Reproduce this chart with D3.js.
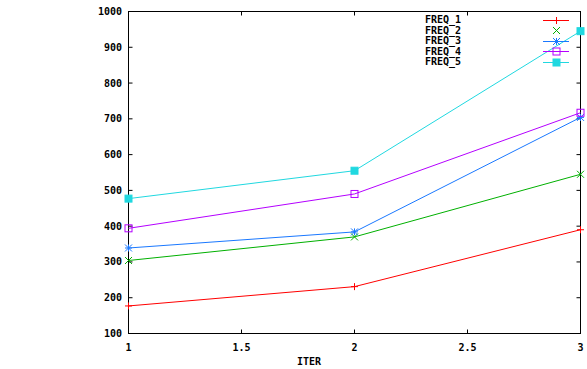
<!DOCTYPE html>
<html><head><meta charset="utf-8">
<script src="https://cdn.jsdelivr.net/npm/d3@7"></script>
<style>body{margin:0;background:#fff}svg{display:block}text{font-family:"DejaVu Sans Mono",monospace;font-weight:bold;font-size:10px;fill:#000}</style>
</head><body>
<script>
const iters = [1, 2, 3];
const seriesNames = ["FREQ_1", "FREQ_2", "FREQ_3", "FREQ_4", "FREQ_5"];
const freq1 = [177, 231, 390];
const freq2 = [304, 370, 545];
const freq3 = [339, 384, 704];
const freq4 = [394, 490, 717];
const freq5 = [477, 555, 945];
const xTicks = [1, 1.5, 2, 2.5, 3];
const yTicks = [100, 200, 300, 400, 500, 600, 700, 800, 900, 1000];
const colors = ["#ff0000", "#00b000", "#1a78ff", "#b400ff", "#20d8e0"];
const markers = ["plus", "cross", "star", "square", "filled"];

const W = 587, H = 369;
const svg = d3.select("body").append("svg").attr("width", W).attr("height", H);
const x = d3.scaleLinear().domain([1, 3]).range([128.5, 580.5]);
const y = d3.scaleLinear().domain([100, 1000]).range([333.5, 11.5]);

const data = [freq1, freq2, freq3, freq4, freq5];

// frame
svg.append("rect").attr("x", x(1)).attr("y", y(1000)).attr("width", x(3) - x(1)).attr("height", y(100) - y(1000))
  .attr("fill", "none").attr("stroke", "#000").attr("stroke-width", 1);

// ticks inward
const tk = 4;
const g = svg.append("g").attr("stroke", "#000").attr("stroke-width", 1);
yTicks.forEach(v => {
  g.append("line").attr("x1", x(1)).attr("x2", x(1) + tk).attr("y1", y(v)).attr("y2", y(v));
  g.append("line").attr("x1", x(3)).attr("x2", x(3) - tk).attr("y1", y(v)).attr("y2", y(v));
});
xTicks.forEach(v => {
  g.append("line").attr("x1", x(v)).attr("x2", x(v)).attr("y1", y(100)).attr("y2", y(100) - tk);
  g.append("line").attr("x1", x(v)).attr("x2", x(v)).attr("y1", y(1000)).attr("y2", y(1000) + tk);
});

// tick labels
svg.selectAll(".yl").data(yTicks).enter().append("text")
  .attr("x", 122).attr("y", d => y(d)).attr("dy", "0.35em").attr("text-anchor", "end").text(d => d);
svg.selectAll(".xl").data(xTicks).enter().append("text")
  .attr("x", d => x(d)).attr("y", 351).attr("text-anchor", "middle").text(d => d);
svg.append("text").attr("x", 309).attr("y", 365).attr("text-anchor", "middle").text("ITER");

function marker(sel, type, cx, cy, color) {
  const s = 3.5;
  const gg = sel.append("g").attr("stroke", color).attr("stroke-width", 1).attr("fill", "none");
  if (type === "plus" || type === "star") {
    gg.append("line").attr("x1", cx - s).attr("x2", cx + s).attr("y1", cy).attr("y2", cy);
    gg.append("line").attr("x1", cx).attr("x2", cx).attr("y1", cy - s).attr("y2", cy + s);
  }
  if (type === "cross" || type === "star") {
    gg.append("line").attr("x1", cx - s).attr("x2", cx + s).attr("y1", cy - s).attr("y2", cy + s);
    gg.append("line").attr("x1", cx - s).attr("x2", cx + s).attr("y1", cy + s).attr("y2", cy - s);
  }
  if (type === "square") {
    gg.append("rect").attr("x", cx - s).attr("y", cy - s).attr("width", 2 * s).attr("height", 2 * s);
  }
  if (type === "filled") {
    gg.append("rect").attr("x", cx - s).attr("y", cy - s).attr("width", 2 * s).attr("height", 2 * s).attr("fill", color);
  }
}

const line = d3.line().x((d, i) => x(iters[i])).y(d => y(d));
data.forEach((vals, k) => {
  svg.append("path").datum(vals).attr("d", line).attr("fill", "none").attr("stroke", colors[k]).attr("stroke-width", 1);
  vals.forEach((v, i) => marker(svg, markers[k], x(iters[i]), y(v), colors[k]));
});

// legend
seriesNames.forEach((name, k) => {
  const ly = 19.5 + k * 10.5;
  svg.append("text").attr("x", 425).attr("y", ly).attr("dy", "0.35em").text(name);
  if (k !== 1) {
    svg.append("line").attr("x1", 543).attr("x2", 569).attr("y1", Math.round(ly) + 0.5).attr("y2", Math.round(ly) + 0.5)
      .attr("stroke", colors[k]).attr("stroke-width", 1);
  }
  marker(svg, markers[k], 556.5, Math.round(ly) + 0.5, colors[k]);
});
</script>
</body></html>
